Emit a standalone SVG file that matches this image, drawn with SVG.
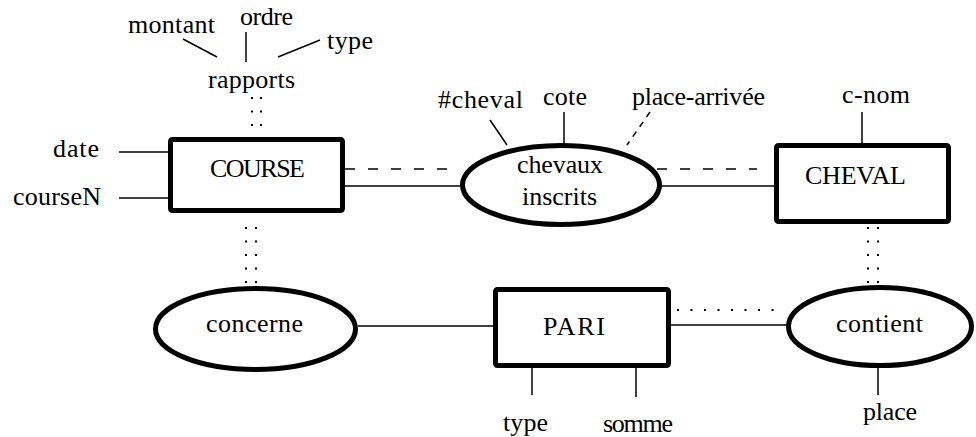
<svg xmlns="http://www.w3.org/2000/svg" width="976" height="437" viewBox="0 0 976 437">
<style>
text{font-family:'Liberation Serif','DejaVu Serif','Noto Serif',serif;font-size:26px;fill:#000;text-anchor:middle}
.ent{fill:#fff;stroke:#000;stroke-width:5}
.ln{stroke:#000;stroke-width:1.5;fill:none}
.dash{stroke:#000;stroke-width:1.5;stroke-dasharray:10 13;fill:none}
.sdash{stroke:#000;stroke-width:1.5;stroke-dasharray:6 6;fill:none}
.dot{stroke:#000;stroke-width:2;stroke-dasharray:2 11.5;fill:none}
</style>
<rect width="976" height="437" fill="#fff"/>
<g id="connectors">
<line class="ln" x1="119" y1="152" x2="168" y2="152"/>
<line class="ln" x1="119" y1="198" x2="168" y2="198"/>
<line class="ln" x1="183" y1="39" x2="217" y2="57"/>
<line class="ln" x1="246" y1="32" x2="246" y2="62"/>
<line class="ln" x1="278" y1="57" x2="320" y2="40"/>
<line class="dot" x1="252" y1="97" x2="252" y2="132"/>
<line class="dot" x1="261" y1="97" x2="261" y2="132"/>
<line class="ln" x1="345" y1="186" x2="462" y2="186"/>
<line class="dash" x1="345" y1="169" x2="457" y2="169"/>
<line class="ln" x1="490" y1="120" x2="507" y2="145"/>
<line class="ln" x1="564" y1="112" x2="564" y2="143"/>
<line class="sdash" x1="650" y1="112" x2="627" y2="145"/>
<line class="ln" x1="660" y1="186" x2="774" y2="186"/>
<line class="dash" x1="657" y1="169" x2="757" y2="169"/>
<line class="ln" x1="862" y1="112" x2="862" y2="143"/>
<line class="dot" x1="246" y1="227" x2="246" y2="285"/>
<line class="dot" x1="256" y1="227" x2="256" y2="285"/>
<line class="dot" x1="868" y1="227" x2="868" y2="285"/>
<line class="dot" x1="878" y1="227" x2="878" y2="285"/>
<line class="ln" x1="358" y1="326" x2="493" y2="326"/>
<line class="ln" x1="671" y1="325" x2="787" y2="325"/>
<line class="dot" x1="677" y1="310" x2="775" y2="310"/>
<line class="ln" x1="532" y1="368" x2="532" y2="395"/>
<line class="ln" x1="636" y1="368" x2="636" y2="397"/>
<line class="ln" x1="878" y1="366" x2="878" y2="395"/>
</g>
<g id="rapports">
<text x="171.5" y="33" textLength="87">montant</text>
<text x="266.5" y="25" textLength="53">ordre</text>
<text x="350" y="49" textLength="46">type</text>
<text x="251.5" y="88" textLength="87">rapports</text>
</g>
<g id="course">
<rect class="ent" x="170.5" y="139.5" width="172" height="71" rx="2"/>
<text x="257.5" y="177" textLength="95">COURSE</text>
<text x="76" y="157" textLength="46">date</text>
<text x="57" y="205" textLength="88">courseN</text>
</g>
<g id="chevaux-inscrits">
<ellipse class="ent" cx="561" cy="185" rx="98.5" ry="39.5"/>
<text x="560" y="173" textLength="86">chevaux</text>
<text x="559.5" y="205" textLength="75">inscrits</text>
<text x="480.5" y="108" textLength="85">#cheval</text>
<text x="565" y="105" textLength="44">cote</text>
<text x="698.5" y="105" textLength="133">place-arrivée</text>
</g>
<g id="cheval">
<rect class="ent" x="776.5" y="145.5" width="172" height="76" rx="2"/>
<text x="855.5" y="184" textLength="101">CHEVAL</text>
<text x="876" y="103" textLength="68">c-nom</text>
</g>
<g id="concerne">
<ellipse class="ent" cx="255.5" cy="329" rx="100" ry="40.5"/>
<text x="254.5" y="332" textLength="97">concerne</text>
</g>
<g id="pari">
<rect class="ent" x="495.5" y="289.5" width="173" height="76" rx="2"/>
<text x="574" y="335" textLength="62">PARI</text>
<text x="525.5" y="431" textLength="45">type</text>
<text x="638" y="432" textLength="70">somme</text>
</g>
<g id="contient">
<ellipse class="ent" cx="880" cy="326.5" rx="91.5" ry="39"/>
<text x="879.5" y="332" textLength="87">contient</text>
<text x="890" y="420" textLength="54">place</text>
</g>
</svg>
